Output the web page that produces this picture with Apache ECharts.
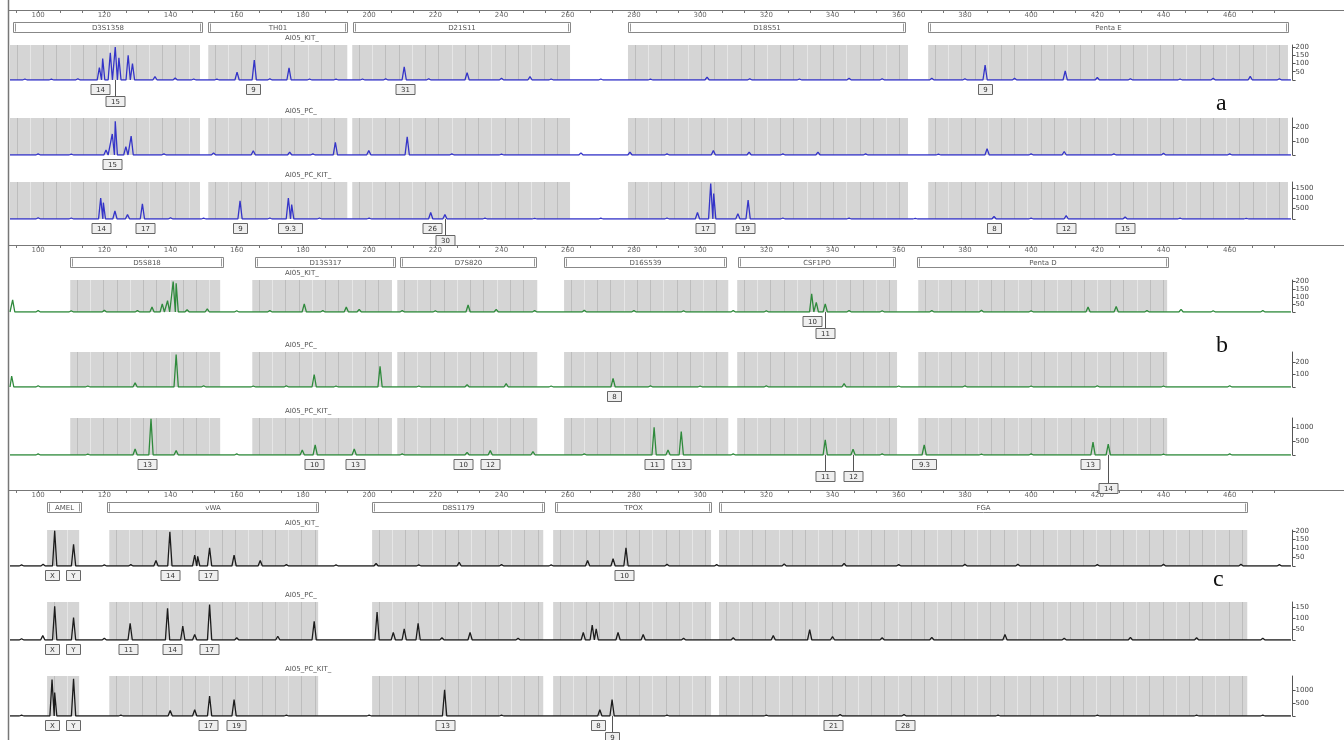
<!DOCTYPE html>
<html>
<head>
<meta charset="utf-8">
<script src="https://cdn.jsdelivr.net/npm/echarts@6/dist/echarts.min.js"></script>
<style>
html, body { margin: 0; padding: 0; background: #fff; }
#main { width: 1344px; height: 740px; }
</style>
</head>
<body>
<div id="main"></div>
<script>
// size axis (bp), same for the three panels
var BP_MIN = 91.5, BP_MAX = 479;
var RULER_LABELS = [100, 120, 140, 160, 180, 200, 220, 240, 260, 280, 300, 320, 340, 360, 380, 400, 420, 440, 460];

// loci boxes [start, end, name] and grey bin areas [start, end]
var LOCI_A = [[92.4, 149.5, 'D3S1358'], [151.4, 193.4, 'TH01'], [195.2, 260.7, 'D21S11'], [278.2, 361.9, 'D18S51'], [368.9, 477.6, 'Penta E']];
var BINS_A = [[91.5, 148.9], [151.4, 193.4], [194.9, 260.7], [278.2, 362.8], [368.9, 477.6]];
var LOCI_B = [[109.7, 155.9, 'D5S818'], [165.6, 207.9, 'D13S317'], [209.4, 250.5, 'D7S820'], [258.9, 307.9, 'D16S539'], [311.5, 358.9, 'CSF1PO'], [365.6, 441.4, 'Penta D']];
var BINS_B = [[109.7, 155.0], [164.7, 206.9], [208.5, 250.8], [258.9, 308.5], [311.2, 359.5], [365.9, 441.1]];
var LOCI_C = [[102.7, 113.0, 'AMEL'], [120.8, 184.6, 'vWA'], [200.9, 252.9, 'D8S1179'], [256.2, 303.3, 'TPOX'], [305.7, 465.3, 'FGA']];
var BINS_C = [[102.7, 112.4], [121.5, 184.6], [200.9, 252.6], [255.6, 303.3], [305.7, 465.3]];

// peaks [size bp, height rfu]
var A1_PEAKS = [[96, 6], [104, 5], [112, 8], [118.5, 75], [119.5, 130], [121.8, 165], [123.3, 200], [124.4, 135], [127.2, 150], [128.5, 100], [135.3, 20], [141.4, 12], [147, 6], [154, 5], [160.1, 48], [165.3, 120], [170, 8], [175.8, 73], [182, 6], [190, 5], [198, 6], [205, 8], [210.6, 80], [218, 8], [229.6, 45], [240, 10], [248.6, 20], [255, 6], [270, 6], [285, 5], [302.1, 18], [315, 8], [330, 6], [345, 10], [355, 8], [370, 10], [380, 8], [386.1, 90], [395, 10], [410.3, 55], [420, 15], [430, 8], [445, 6], [455, 10], [466.2, 22], [475, 8]];
var A2_PEAKS = [[100, 8], [110, 6], [120.5, 35], [122.4, 150], [123.3, 240], [126.5, 60], [128.1, 135], [138, 8], [153, 15], [165, 30], [176, 21], [183, 8], [189.8, 90], [199.9, 31], [211.5, 129], [225, 8], [240, 6], [264, 15], [278.8, 21], [290, 8], [304, 31], [314.8, 20], [325, 8], [335.6, 21], [350, 8], [372, 6], [386.7, 45], [400, 8], [410, 25], [425, 8], [440, 12], [460, 8]];
var A3_PEAKS = [[100, 60], [110, 50], [118.9, 1015], [119.7, 790], [123.2, 387], [127, 210], [131.5, 735], [140, 60], [150, 40], [161, 876], [170, 50], [175.6, 1017], [176.6, 700], [185, 50], [200, 40], [218.6, 315], [222.9, 210], [235, 40], [250, 30], [270, 40], [290, 50], [299.2, 315], [303.2, 1720], [304.1, 1230], [311.4, 260], [314.5, 910], [325, 50], [345, 40], [365, 30], [388.8, 120], [400, 40], [410.6, 160], [428.4, 100], [445, 40], [465, 30]];
var B1_PEAKS = [[92.3, 80], [100, 10], [110, 8], [120, 12], [130, 10], [134.4, 32], [137.5, 53], [139.1, 74], [140.8, 200], [141.7, 189], [145, 15], [151.1, 21], [160, 8], [170, 10], [180.4, 53], [186, 10], [193.1, 32], [197, 17], [210, 10], [220, 8], [229.9, 46], [238.4, 17], [250, 10], [265, 12], [280, 10], [295, 8], [310, 10], [320, 8], [333.7, 120], [335.1, 63], [337.8, 53], [345, 10], [355, 8], [370, 10], [385, 12], [400, 8], [417.2, 32], [425.7, 36], [435, 10], [445.3, 17], [455, 8], [470, 10]];
var B2_PEAKS = [[92, 88], [100, 10], [115, 8], [129.3, 33], [141.7, 260], [150, 10], [165, 8], [175, 10], [183.4, 100], [190, 8], [203.3, 165], [215, 8], [229.6, 19], [241.4, 27], [255, 8], [273.7, 69], [285, 10], [300, 8], [320, 10], [343.5, 27], [360, 8], [380, 10], [400, 8], [420, 10], [440, 8], [460, 10]];
var B3_PEAKS = [[100, 40], [115, 30], [129.3, 216], [134.1, 1296], [141.7, 156], [160, 40], [179.8, 180], [183.7, 360], [195.5, 216], [210, 40], [229.6, 96], [236.6, 156], [249.5, 120], [265, 40], [286.1, 984], [290.3, 180], [294.3, 840], [310, 40], [337.8, 540], [346.2, 204], [355, 40], [367.7, 360], [385, 30], [400, 40], [418.7, 456], [423.3, 384], [440, 30], [460, 40]];
var C1_PEAKS = [[95, 6], [101.5, 10], [105, 200], [110.7, 123], [120, 6], [128, 8], [135.6, 31], [139.8, 195], [147.3, 62], [148.2, 55], [151.8, 103], [159.2, 62], [167.1, 31], [175, 8], [190, 6], [202.1, 14], [215, 6], [227.2, 21], [240, 8], [255, 6], [266, 31], [273.7, 41], [277.6, 103], [290, 10], [305, 8], [325.4, 12], [343.5, 15], [360, 8], [380, 10], [396, 10], [420, 8], [440, 10], [463.4, 10], [475, 8]];
var C2_PEAKS = [[95, 6], [101.4, 20], [105, 153], [110.7, 102], [120, 8], [127.8, 76], [139.1, 144], [143.7, 63], [147.3, 25], [151.8, 161], [160, 10], [172.4, 17], [183.4, 85], [202.4, 127], [207.3, 34], [210.6, 51], [214.8, 76], [222, 10], [230.5, 34], [245, 8], [264.7, 34], [267.4, 68], [268.6, 51], [275.2, 34], [282.8, 25], [295, 8], [310, 10], [322.1, 20], [333.1, 47], [340, 15], [355, 10], [370, 12], [392.1, 25], [410, 8], [430, 12], [450, 10], [470, 8]];
var C3_PEAKS = [[95, 30], [104.2, 1400], [105, 900], [110.7, 1430], [125, 30], [139.9, 210], [147.3, 238], [151.8, 770], [159.2, 630], [175, 30], [200, 30], [222.8, 1008], [240, 30], [269.7, 238], [273.4, 630], [290, 30], [320, 30], [342.3, 60], [361.6, 60], [390, 30], [420, 30], [450, 30], [470, 30]];

// allele calls [size bp, row, text]
var A1_CALLS = [[118.7, 0, '14'], [123.3, 1, '15'], [165.0, 0, '9'], [210.9, 0, '31'], [386.1, 0, '9']];
var A2_CALLS = [[122.4, 0, '15']];
var A3_CALLS = [[118.9, 0, '14'], [132.3, 0, '17'], [161.0, 0, '9'], [176.1, 0, '9.3'], [219.0, 0, '26'], [222.9, 1, '30'], [301.5, 0, '17'], [313.6, 0, '19'], [388.8, 0, '8'], [410.6, 0, '12'], [428.4, 0, '15']];
var B1_CALLS = [[333.7, 0, '10'], [337.8, 1, '11']];
var B2_CALLS = [[274.0, 0, '8']];
var B3_CALLS = [[132.9, 0, '13'], [183.4, 0, '10'], [195.8, 0, '13'], [228.4, 0, '10'], [236.6, 0, '12'], [286.1, 0, '11'], [294.3, 0, '13'], [337.8, 1, '11'], [346.2, 1, '12'], [367.7, 0, '9.3'], [417.8, 0, '13'], [423.3, 2, '14']];
var C1_CALLS = [[104.2, 0, 'X'], [110.6, 0, 'Y'], [139.9, 0, '14'], [151.4, 0, '17'], [277.0, 0, '10']];
var C2_CALLS = [[104.2, 0, 'X'], [110.6, 0, 'Y'], [127.2, 0, '11'], [140.5, 0, '14'], [151.7, 0, '17']];
var C3_CALLS = [[104.2, 0, 'X'], [110.6, 0, 'Y'], [151.4, 0, '17'], [159.8, 0, '19'], [223.0, 0, '13'], [269.2, 0, '8'], [273.4, 1, '9'], [340.2, 0, '21'], [361.9, 0, '28']];

// y scale tick labels per trace
var Y_TICKS_KIT = [0, 50, 100, 150, 200];
var Y_TICKS_PC = [0, 100, 200];
var Y_TICKS_PCKIT_A = [0, 500, 1000, 1500];
var Y_TICKS_PCKIT = [0, 500, 1000];
var Y_TICKS_PC_C = [0, 50, 100, 150];

var GL = 10, GR = 51.4;
var FONT = 'DejaVu Sans';

var traces = [
    { name: 'AI05_KIT_', top: 45, base: 80, max: 212, ticks: Y_TICKS_KIT, peaks: A1_PEAKS, calls: A1_CALLS, bins: BINS_A, color: '#3434c8' },
    { name: 'AI05_PC_', top: 118, base: 155, max: 264, ticks: Y_TICKS_PC, peaks: A2_PEAKS, calls: A2_CALLS, bins: BINS_A, color: '#3434c8' },
    { name: 'AI05_PC_KIT_', top: 182, base: 219, max: 1790, ticks: Y_TICKS_PCKIT_A, peaks: A3_PEAKS, calls: A3_CALLS, bins: BINS_A, color: '#3434c8' },
    { name: 'AI05_KIT_', top: 280, base: 312, max: 210, ticks: Y_TICKS_KIT, peaks: B1_PEAKS, calls: B1_CALLS, bins: BINS_B, color: '#2f8a3c' },
    { name: 'AI05_PC_', top: 352, base: 387, max: 280, ticks: Y_TICKS_PC, peaks: B2_PEAKS, calls: B2_CALLS, bins: BINS_B, color: '#2f8a3c' },
    { name: 'AI05_PC_KIT_', top: 418, base: 455, max: 1320, ticks: Y_TICKS_PCKIT, peaks: B3_PEAKS, calls: B3_CALLS, bins: BINS_B, color: '#2f8a3c' },
    { name: 'AI05_KIT_', top: 530, base: 566, max: 205, ticks: Y_TICKS_KIT, peaks: C1_PEAKS, calls: C1_CALLS, bins: BINS_C, color: '#1c1c1c' },
    { name: 'AI05_PC_', top: 602, base: 640, max: 173, ticks: Y_TICKS_PC_C, peaks: C2_PEAKS, calls: C2_CALLS, bins: BINS_C, color: '#1c1c1c' },
    { name: 'AI05_PC_KIT_', top: 676, base: 716, max: 1540, ticks: Y_TICKS_PCKIT, peaks: C3_PEAKS, calls: C3_CALLS, bins: BINS_C, color: '#1c1c1c' }
];
var rulers = [
    { y: 10, loci: LOCI_A },
    { y: 245, loci: LOCI_B },
    { y: 490, loci: LOCI_C }
];

// each peak drawn as a narrow spike on the baseline
function traceData(peaks) {
    var out = [[BP_MIN, 0]];
    peaks.forEach(function (p) {
        out.push([p[0] - 0.65, 0], [p[0], p[1]], [p[0] + 0.65, 0]);
    });
    out.push([BP_MAX - 0.5, 0]);
    return out;
}

function binRender(blocks) {
    return function (params, api) {
        var b = blocks[params.dataIndex];
        var cs = params.coordSys;
        var x0 = api.coord([b[0], 0])[0], x1 = api.coord([b[1], 0])[0];
        var kids = [{ type: 'rect', shape: { x: x0, y: cs.y, width: x1 - x0, height: cs.height }, style: { fill: '#d5d5d5' } }];
        var k = 0;
        for (var v = b[0] + 2; v < b[1] - 1; v += 4) {
            var px = Math.round(api.coord([v, 0])[0]) + 0.5;
            kids.push({ type: 'line', shape: { x1: px, y1: cs.y, x2: px, y2: cs.y + cs.height },
                style: { stroke: k % 3 == 1 ? '#e6e6e6' : '#bdbdbd', lineWidth: 1 } });
            k++;
        }
        return { type: 'group', children: kids };
    };
}

function callRender(list) {
    return function (params, api) {
        var d = list[params.dataIndex];
        var cs = params.coordSys;
        var x = Math.round(api.coord([d[0], 0])[0]);
        var base = cs.y + cs.height;
        var w = d[2].length * 5 + 9, h = 10;
        var top = base + 4 + d[1] * 12;
        var kids = [];
        if (d[1] > 0) {
            kids.push({ type: 'line', shape: { x1: x + 0.5, y1: base, x2: x + 0.5, y2: top }, style: { stroke: '#555', lineWidth: 1 } });
        }
        kids.push({ type: 'rect', shape: { x: x - w / 2 + 0.5, y: top + 0.5, width: w, height: h }, style: { fill: '#efefef', stroke: '#666', lineWidth: 1 } });
        kids.push({ type: 'text', style: { text: d[2], x: x + 0.5, y: top + h / 2 + 1, align: 'center', verticalAlign: 'middle', fontSize: 7, fontFamily: FONT, fill: '#333' } });
        return { type: 'group', children: kids };
    };
}

function lociRender(list) {
    return function (params, api) {
        var d = list[params.dataIndex];
        var cs = params.coordSys;
        var x0 = Math.round(api.coord([d[0], 0])[0]) + 0.5, x1 = Math.round(api.coord([d[1], 0])[0]) + 0.5;
        var top = cs.y + cs.height + 12.5;
        return { type: 'group', children: [
            { type: 'rect', shape: { x: x0, y: top, width: x1 - x0, height: 10 }, style: { fill: '#fff', stroke: '#888', lineWidth: 1 } },
            { type: 'line', shape: { x1: x0 + 2, y1: top + 1, x2: x0 + 2, y2: top + 9 }, style: { stroke: '#999', lineWidth: 1 } },
            { type: 'line', shape: { x1: x1 - 2, y1: top + 1, x2: x1 - 2, y2: top + 9 }, style: { stroke: '#999', lineWidth: 1 } },
            { type: 'text', style: { text: d[2], x: (x0 + x1) / 2, y: top + 5.5, align: 'center', verticalAlign: 'middle', fontSize: 7, fontFamily: FONT, fill: '#555' } }
        ] };
    };
}

var rulerTicks = [];
RULER_LABELS.concat([480]).forEach(function (v) {
    rulerTicks.push(v - 40 / 3, v - 20 / 3);
});
rulerTicks = rulerTicks.concat(RULER_LABELS).filter(function (v) { return v > BP_MIN && v < BP_MAX; });

var grid = [], xAxis = [], yAxis = [], series = [], graphic = [];

traces.forEach(function (t, i) {
    grid.push({ left: GL, right: GR, top: t.top, height: t.base - t.top });
    xAxis.push({ gridIndex: i, type: 'value', min: BP_MIN, max: BP_MAX, show: false });
    yAxis.push({
        gridIndex: i, type: 'value', position: 'right', min: 0, max: t.max,
        splitLine: { show: false },
        axisLine: { show: true, lineStyle: { color: '#555', width: 1 } },
        axisTick: { show: true, length: 3, customValues: t.ticks, lineStyle: { color: '#555' } },
        axisLabel: { customValues: t.ticks.slice(1), fontSize: 7, margin: 3, color: '#444', fontFamily: FONT,
            formatter: function (v) { return String(v); } }
    });
    series.push({
        type: 'custom', xAxisIndex: i, yAxisIndex: i, silent: true, z: 1,
        renderItem: binRender(t.bins),
        data: t.bins.map(function (b) { return [b[0], b[1]]; }),
        encode: { x: [0, 1] }
    });
    series.push({
        type: 'line', xAxisIndex: i, yAxisIndex: i, silent: true, z: 3,
        showSymbol: false, symbol: 'none',
        lineStyle: { color: t.color, width: 1.3 },
        data: traceData(t.peaks)
    });
    series.push({
        type: 'custom', xAxisIndex: i, yAxisIndex: i, silent: true, z: 4, clip: false,
        renderItem: callRender(t.calls),
        data: t.calls.map(function (c) { return [c[0], 0]; })
    });
    graphic.push({ type: 'text', left: 285, top: t.top - 10, style: { text: t.name, fontSize: 7, fontFamily: FONT, fill: '#555' } });
});

rulers.forEach(function (r, j) {
    var gi = traces.length + j;
    grid.push({ left: GL, right: GR, top: r.y - 1, height: 1 });
    xAxis.push({
        gridIndex: gi, type: 'value', min: BP_MIN, max: BP_MAX, position: 'bottom',
        splitLine: { show: false },
        axisLine: { show: true, lineStyle: { color: '#777', width: 1 } },
        axisTick: { show: true, length: 3, customValues: rulerTicks, lineStyle: { color: '#777' } },
        axisLabel: { customValues: RULER_LABELS, fontSize: 7, margin: 2, color: '#666', fontFamily: FONT }
    });
    yAxis.push({ gridIndex: gi, type: 'value', min: 0, max: 1, show: false });
    series.push({
        type: 'custom', xAxisIndex: gi, yAxisIndex: gi, silent: true, clip: false,
        renderItem: lociRender(r.loci),
        data: r.loci.map(function (l) { return [l[0], 0]; })
    });
    graphic.push({ type: 'line', shape: { x1: 8, y1: r.y + 0.5, x2: 1344, y2: r.y + 0.5 }, style: { stroke: '#777', lineWidth: 1 } });
});

graphic.push({ type: 'line', shape: { x1: 8.5, y1: 0, x2: 8.5, y2: 740 }, style: { stroke: '#777', lineWidth: 1.5 } });
graphic.push({ type: 'text', left: 1216, top: 92, style: { text: 'a', fontSize: 24, fontFamily: 'Liberation Serif', fill: '#111' } });
graphic.push({ type: 'text', left: 1216, top: 334, style: { text: 'b', fontSize: 24, fontFamily: 'Liberation Serif', fill: '#111' } });
graphic.push({ type: 'text', left: 1213, top: 568, style: { text: 'c', fontSize: 24, fontFamily: 'Liberation Serif', fill: '#111' } });

var myChart = echarts.init(document.getElementById('main'));
var option = {
    backgroundColor: '#fff',
    animation: false,
    grid: grid,
    xAxis: xAxis,
    yAxis: yAxis,
    series: series,
    graphic: graphic
};
myChart.setOption(option);
</script>
</body>
</html>
